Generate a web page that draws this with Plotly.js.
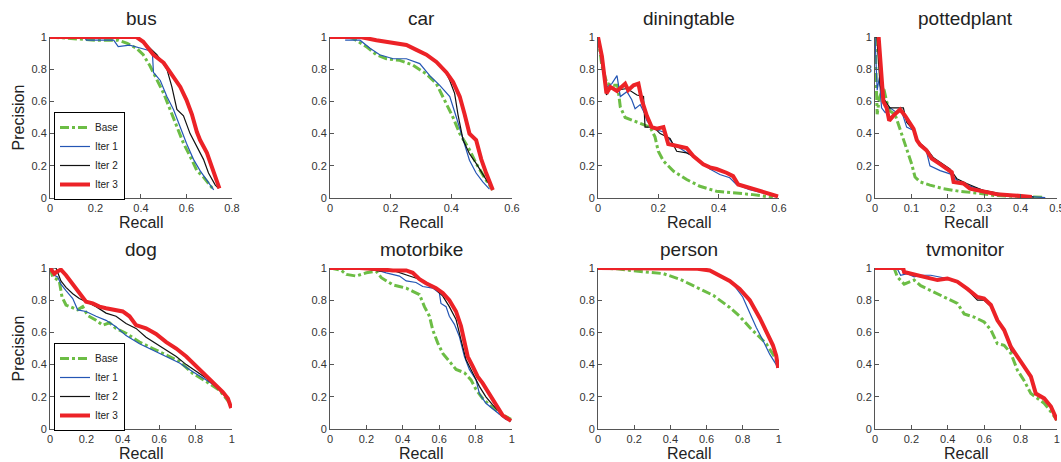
<!DOCTYPE html>
<html>
<head>
<meta charset="utf-8">
<script src="https://cdn.plot.ly/plotly-3.0.1.min.js"></script>
<style>html,body{margin:0;padding:0;background:#fff;}#chart{width:1061px;height:462px;}</style>
</head>
<body>
<div id="chart"></div>
<script>
// ---------- categories ----------
const categories = ["bus", "car", "diningtable", "pottedplant", "dog", "motorbike", "person", "tvmonitor"];
const seriesNames = ["Base", "Iter 1", "Iter 2", "Iter 3"];
const xMax = [0.8, 0.6, 0.6, 0.5, 1, 1, 1, 1];
const xTickStep = [0.2, 0.2, 0.2, 0.1, 0.2, 0.2, 0.2, 0.2];

// ---------- bus ----------
const bus_base_r = [0,0.2,0.3,0.34,0.38,0.41,0.44,0.47,0.5,0.528,0.558,0.587,0.616,0.646,0.675,0.705,0.72];
const bus_base_p = [1,0.98,0.98,0.96,0.93,0.89,0.82,0.73,0.65,0.55,0.44,0.34,0.26,0.17,0.13,0.08,0.05];
const bus_iter1_r = [0,0.15,0.16,0.28,0.3,0.35,0.4,0.45,0.455,0.485,0.514,0.543,0.573,0.6,0.631,0.66,0.69,0.72];
const bus_iter1_p = [1,1,0.98,0.98,0.94,0.95,0.93,0.91,0.78,0.73,0.63,0.55,0.44,0.34,0.24,0.17,0.11,0.05];
const bus_iter2_r = [0,0.38,0.41,0.44,0.47,0.514,0.536,0.558,0.587,0.616,0.646,0.675,0.697,0.727,0.741];
const bus_iter2_p = [1,1,0.97,0.93,0.89,0.80,0.69,0.55,0.51,0.40,0.32,0.24,0.155,0.08,0.06];
const bus_iter3_r = [0,0.38,0.41,0.455,0.5,0.543,0.573,0.6,0.624,0.646,0.66,0.69,0.712,0.734,0.745];
const bus_iter3_p = [1,1,0.97,0.89,0.84,0.755,0.69,0.61,0.52,0.41,0.36,0.28,0.195,0.11,0.06];

// ---------- car ----------
const car_base_r = [0.06,0.077,0.12,0.153,0.186,0.23,0.274,0.318,0.351,0.384,0.406,0.428,0.46,0.482,0.515,0.537];
const car_base_p = [1,0.99,0.94,0.89,0.865,0.855,0.825,0.77,0.71,0.59,0.50,0.40,0.30,0.215,0.11,0.05];
const car_iter1_r = [0.05,0.099,0.132,0.164,0.208,0.252,0.296,0.329,0.362,0.395,0.417,0.439,0.46,0.482,0.504,0.526];
const car_iter1_p = [0.98,0.98,0.93,0.89,0.865,0.865,0.835,0.76,0.70,0.63,0.50,0.36,0.235,0.155,0.10,0.055];
const car_iter2_r = [0,0.1,0.153,0.208,0.252,0.285,0.318,0.351,0.38,0.395,0.411,0.422,0.439,0.46,0.482,0.51,0.537];
const car_iter2_p = [1,1,0.98,0.96,0.95,0.92,0.89,0.845,0.79,0.73,0.65,0.52,0.36,0.275,0.215,0.13,0.05];
const car_iter3_r = [0,0.1,0.153,0.208,0.252,0.285,0.318,0.351,0.384,0.406,0.428,0.444,0.46,0.482,0.499,0.515,0.537];
const car_iter3_p = [1,1,0.98,0.96,0.95,0.92,0.89,0.845,0.78,0.72,0.63,0.52,0.40,0.36,0.24,0.155,0.05];

// ---------- diningtable ----------
const din_base_r = [0,0.013,0.03,0.052,0.065,0.074,0.09,0.118,0.151,0.173,0.189,0.2,0.217,0.25,0.294,0.338,0.393,0.459,0.514,0.58];
const din_base_p = [1,0.82,0.71,0.70,0.70,0.565,0.50,0.48,0.46,0.44,0.38,0.29,0.23,0.167,0.115,0.073,0.042,0.031,0.021,0.004];
const din_iter1_r = [0,0.013,0.03,0.046,0.063,0.074,0.096,0.112,0.123,0.14,0.156,0.162,0.184,0.217,0.25,0.294,0.338,0.371,0.404,0.437,0.459,0.503,0.547,0.597];
const din_iter1_p = [1,0.82,0.69,0.71,0.76,0.63,0.66,0.61,0.555,0.58,0.52,0.48,0.43,0.41,0.335,0.28,0.23,0.18,0.146,0.126,0.084,0.052,0.031,0.01];
const din_iter2_r = [0,0.013,0.028,0.041,0.063,0.096,0.129,0.151,0.156,0.184,0.206,0.239,0.261,0.294,0.327,0.349,0.371,0.393,0.426,0.448,0.465,0.503,0.547,0.597];
const din_iter2_p = [1,0.88,0.64,0.68,0.67,0.68,0.64,0.63,0.44,0.44,0.40,0.37,0.29,0.28,0.25,0.21,0.19,0.18,0.157,0.136,0.084,0.063,0.042,0.01];
const din_iter3_r = [0,0.013,0.028,0.041,0.063,0.09,0.1,0.118,0.134,0.145,0.162,0.178,0.195,0.217,0.233,0.261,0.294,0.316,0.349,0.371,0.393,0.426,0.448,0.465,0.503,0.547,0.597];
const din_iter3_p = [1,0.88,0.65,0.69,0.665,0.71,0.67,0.70,0.71,0.61,0.51,0.44,0.43,0.44,0.335,0.325,0.31,0.26,0.21,0.19,0.18,0.157,0.136,0.084,0.063,0.042,0.01];

// ---------- pottedplant ----------
const pot_base_r = [0,0.003,0.006,0.012,0.023,0.032,0.041,0.055,0.064,0.073,0.087,0.101,0.11,0.124,0.151,0.188,0.234,0.28,0.326,0.39,0.463];
const pot_base_p = [1,0.71,0.52,0.62,0.69,0.60,0.54,0.52,0.46,0.40,0.315,0.21,0.13,0.10,0.08,0.058,0.041,0.031,0.016,0.01,0.004];
const pot_iter1_r = [0,0.006,0.012,0.018,0.028,0.041,0.06,0.073,0.087,0.106,0.119,0.142,0.151,0.179,0.206,0.225,0.252,0.298,0.344,0.417,0.468];
const pot_iter1_p = [1,0.67,0.75,0.56,0.53,0.56,0.53,0.54,0.44,0.42,0.34,0.285,0.20,0.17,0.15,0.11,0.08,0.047,0.023,0.01,0.002];
const pot_iter2_r = [0,0.005,0.014,0.023,0.041,0.069,0.078,0.087,0.106,0.119,0.142,0.161,0.188,0.206,0.225,0.252,0.298,0.344,0.39,0.436];
const pot_iter2_p = [1,1,0.70,0.62,0.56,0.56,0.56,0.47,0.42,0.35,0.305,0.25,0.21,0.18,0.12,0.09,0.047,0.027,0.016,0.006];
const pot_iter3_r = [0.01,0.018,0.023,0.032,0.039,0.05,0.069,0.083,0.096,0.106,0.115,0.124,0.142,0.156,0.179,0.197,0.211,0.216,0.243,0.261,0.298,0.335,0.381,0.431];
const pot_iter3_p = [1,0.75,0.60,0.56,0.48,0.51,0.55,0.51,0.46,0.43,0.36,0.33,0.295,0.245,0.21,0.18,0.16,0.10,0.09,0.058,0.043,0.023,0.016,0.006];

// ---------- dog ----------
const dog_base_r = [0,0.015,0.051,0.066,0.088,0.116,0.152,0.18,0.207,0.253,0.29,0.327,0.363,0.418,0.492,0.565,0.639,0.712,0.785,0.859,0.932,0.996];
const dog_base_p = [1,0.945,0.92,0.82,0.77,0.755,0.74,0.76,0.705,0.675,0.645,0.66,0.625,0.595,0.54,0.50,0.46,0.42,0.345,0.295,0.24,0.15];
const dog_iter1_r = [0,0.024,0.042,0.06,0.088,0.125,0.152,0.198,0.253,0.308,0.363,0.418,0.492,0.565,0.639,0.712,0.785,0.859,0.932,0.996];
const dog_iter1_p = [1,0.955,0.945,0.90,0.86,0.81,0.74,0.73,0.70,0.675,0.635,0.58,0.53,0.49,0.45,0.41,0.355,0.305,0.25,0.15];
const dog_iter2_r = [0,0.033,0.06,0.088,0.125,0.161,0.198,0.253,0.308,0.363,0.418,0.473,0.528,0.583,0.639,0.694,0.749,0.804,0.859,0.914,0.969,0.996];
const dog_iter2_p = [1,1,0.92,0.88,0.84,0.81,0.79,0.76,0.72,0.70,0.655,0.625,0.57,0.53,0.49,0.45,0.40,0.355,0.315,0.26,0.20,0.14];
const dog_iter3_r = [0,0.024,0.042,0.06,0.088,0.125,0.161,0.198,0.235,0.272,0.308,0.345,0.4,0.437,0.473,0.528,0.583,0.639,0.694,0.749,0.804,0.859,0.914,0.95,0.978,0.996];
const dog_iter3_p = [1,0.965,0.98,0.99,0.955,0.90,0.84,0.79,0.78,0.76,0.75,0.74,0.73,0.70,0.645,0.625,0.59,0.54,0.50,0.45,0.39,0.335,0.27,0.23,0.19,0.13];

// ---------- motorbike ----------
const mot_base_r = [0,0.062,0.09,0.144,0.2,0.254,0.282,0.309,0.346,0.382,0.419,0.455,0.492,0.519,0.547,0.565,0.592,0.62,0.656,0.693,0.739,0.775,0.803,0.839,0.876,0.931,0.995];
const mot_base_p = [1,0.985,0.96,0.95,0.97,0.98,0.94,0.92,0.895,0.885,0.875,0.855,0.835,0.76,0.70,0.615,0.535,0.47,0.42,0.37,0.35,0.305,0.245,0.19,0.15,0.10,0.06];
const mot_iter1_r = [0,0.236,0.309,0.382,0.419,0.473,0.51,0.565,0.601,0.61,0.638,0.656,0.684,0.711,0.739,0.766,0.803,0.821,0.857,0.912,0.967,0.995];
const mot_iter1_p = [1,0.995,0.97,0.95,0.92,0.91,0.885,0.875,0.845,0.78,0.76,0.70,0.65,0.575,0.45,0.37,0.305,0.22,0.16,0.11,0.06,0.05];
const mot_iter2_r = [0,0.2,0.272,0.346,0.437,0.492,0.565,0.62,0.656,0.693,0.72,0.748,0.784,0.821,0.857,0.894,0.949,0.995];
const mot_iter2_p = [1,0.995,0.98,0.985,0.95,0.93,0.885,0.825,0.76,0.68,0.555,0.43,0.35,0.265,0.20,0.15,0.085,0.05];
const mot_iter3_r = [0,0.163,0.29,0.346,0.419,0.455,0.492,0.528,0.583,0.62,0.656,0.693,0.72,0.739,0.757,0.784,0.812,0.839,0.876,0.912,0.949,0.995];
const mot_iter3_p = [1,1,0.99,0.985,0.985,0.97,0.93,0.905,0.875,0.845,0.80,0.73,0.64,0.535,0.45,0.39,0.325,0.285,0.22,0.16,0.085,0.05];

// ---------- person ----------
const per_base_r = [0,0.105,0.178,0.27,0.361,0.453,0.545,0.637,0.728,0.783,0.839,0.894,0.93,0.967,0.994];
const per_base_p = [1,0.995,0.985,0.975,0.965,0.93,0.88,0.83,0.755,0.70,0.63,0.57,0.53,0.465,0.41];
const per_iter1_r = [0,0.5,0.55,0.618,0.673,0.728,0.747,0.8,0.839,0.875,0.912,0.949,0.985,0.99];
const per_iter1_p = [1,1,0.995,0.985,0.95,0.92,0.90,0.82,0.72,0.63,0.55,0.465,0.40,0.38];
const per_iter2_r = [0,0.5,0.55,0.618,0.673,0.728,0.783,0.839,0.894,0.93,0.967,0.985,0.996];
const per_iter2_p = [1,1,0.995,0.985,0.95,0.92,0.865,0.79,0.68,0.60,0.51,0.45,0.38];
const per_iter3_r = [0,0.5,0.55,0.618,0.673,0.728,0.783,0.839,0.894,0.93,0.967,0.985,0.996];
const per_iter3_p = [1,1,0.995,0.985,0.95,0.92,0.87,0.80,0.69,0.61,0.52,0.455,0.38];

// ---------- tvmonitor ----------
const tv_base_r = [0,0.105,0.123,0.16,0.215,0.251,0.306,0.343,0.398,0.453,0.49,0.545,0.6,0.637,0.673,0.71,0.747,0.783,0.82,0.857,0.894,0.93,0.967,1.0];
const tv_base_p = [1,1,0.945,0.90,0.925,0.89,0.86,0.84,0.81,0.78,0.715,0.695,0.665,0.615,0.53,0.52,0.47,0.365,0.30,0.22,0.19,0.16,0.107,0.055];
const tv_iter1_r = [0,0.12,0.141,0.178,0.215,0.251,0.306,0.361,0.398,0.453,0.508,0.563,0.6,0.637,0.673,0.71,0.747,0.783,0.82,0.857,0.884,0.93,0.967,1.0];
const tv_iter1_p = [1,1,0.955,0.965,0.945,0.955,0.955,0.945,0.935,0.915,0.875,0.815,0.80,0.77,0.68,0.61,0.50,0.45,0.385,0.33,0.22,0.19,0.14,0.06];
const tv_iter2_r = [0,0.14,0.16,0.196,0.233,0.288,0.343,0.398,0.453,0.508,0.563,0.6,0.637,0.673,0.71,0.747,0.783,0.82,0.857,0.884,0.93,0.967,1.0];
const tv_iter2_p = [1,1,0.97,0.96,0.95,0.94,0.925,0.93,0.91,0.865,0.80,0.80,0.76,0.67,0.61,0.49,0.45,0.385,0.32,0.22,0.19,0.14,0.055];
const tv_iter3_r = [0,0.155,0.16,0.196,0.233,0.288,0.343,0.398,0.453,0.508,0.563,0.6,0.637,0.673,0.71,0.747,0.783,0.82,0.857,0.884,0.93,0.967,1.0];
const tv_iter3_p = [1,1,0.975,0.965,0.955,0.945,0.925,0.935,0.915,0.87,0.82,0.81,0.77,0.675,0.615,0.51,0.45,0.385,0.325,0.22,0.19,0.14,0.055];

const curves = [
  [[bus_base_r,bus_base_p],[bus_iter1_r,bus_iter1_p],[bus_iter2_r,bus_iter2_p],[bus_iter3_r,bus_iter3_p]],
  [[car_base_r,car_base_p],[car_iter1_r,car_iter1_p],[car_iter2_r,car_iter2_p],[car_iter3_r,car_iter3_p]],
  [[din_base_r,din_base_p],[din_iter1_r,din_iter1_p],[din_iter2_r,din_iter2_p],[din_iter3_r,din_iter3_p]],
  [[pot_base_r,pot_base_p],[pot_iter1_r,pot_iter1_p],[pot_iter2_r,pot_iter2_p],[pot_iter3_r,pot_iter3_p]],
  [[dog_base_r,dog_base_p],[dog_iter1_r,dog_iter1_p],[dog_iter2_r,dog_iter2_p],[dog_iter3_r,dog_iter3_p]],
  [[mot_base_r,mot_base_p],[mot_iter1_r,mot_iter1_p],[mot_iter2_r,mot_iter2_p],[mot_iter3_r,mot_iter3_p]],
  [[per_base_r,per_base_p],[per_iter1_r,per_iter1_p],[per_iter2_r,per_iter2_p],[per_iter3_r,per_iter3_p]],
  [[tv_base_r,tv_base_p],[tv_iter1_r,tv_iter1_p],[tv_iter2_r,tv_iter2_p],[tv_iter3_r,tv_iter3_p]]
];

// ---------- styles ----------
const lineStyles = [
  {color: "#6cbd45", width: 3, dash: "dashdot"},
  {color: "#2456b4", width: 1.2, dash: "solid"},
  {color: "#111111", width: 1.2, dash: "solid"},
  {color: "#ec2227", width: 4, dash: "solid"}
];
const FONT = "Liberation Sans, Arial, sans-serif";
const W = 1061, H = 462;
const colPx = [[50, 232], [330, 512], [598, 779], [875, 1057]];
const rowPx = [[37, 198], [268, 429]];

const traces = [];
const legendStyle = {
  xanchor: "left", yanchor: "top",
  bgcolor: "#fff", bordercolor: "#000", borderwidth: 1,
  font: {size: 10, family: FONT, color: "#222"}, tracegroupgap: 0, itemwidth: 30
};
const layout = {
  width: W, height: H,
  margin: {l: 0, r: 0, t: 0, b: 0},
  paper_bgcolor: "#ffffff", plot_bgcolor: "#ffffff",
  font: {family: FONT, color: "#333"},
  showlegend: true,
  annotations: [],
  legend: Object.assign({x: 54 / W, y: 1 - 112 / H}, legendStyle),
  legend2: Object.assign({x: 54 / W, y: 1 - 343 / H}, legendStyle)
};

categories.forEach((cat, i) => {
  const row = Math.floor(i / 4), col = i % 4;
  const n = i + 1;
  const sfx = n === 1 ? "" : String(n);
  const xd = [colPx[col][0] / W, colPx[col][1] / W];
  const yd = [1 - rowPx[row][1] / H, 1 - rowPx[row][0] / H];
  const axCommon = {
    showline: true, linecolor: "#555", linewidth: 1, mirror: false,
    ticks: "inside", ticklen: 4, tickcolor: "#555", tickwidth: 1,
    showgrid: false, zeroline: false, fixedrange: true,
    ticklabeloverflow: "allow",
    tickfont: {size: 11, family: FONT, color: "#333"}
  };
  layout["xaxis" + sfx] = Object.assign({}, axCommon, {
    domain: xd, range: [0, xMax[i] * 1.0005], tick0: 0, dtick: xTickStep[i],
    anchor: "y" + sfx
  });
  layout["yaxis" + sfx] = Object.assign({}, axCommon, {
    domain: yd, range: [0, 1], tick0: 0, dtick: 0.2,
    anchor: "x" + sfx
  });
  curves[i].forEach((c, s) => {
    traces.push({
      type: "scatter", mode: "lines",
      x: c[0], y: c[1],
      name: seriesNames[s],
      xaxis: "x" + sfx, yaxis: "y" + sfx,
      line: lineStyles[s],
      showlegend: (i === 0 || i === 4),
      legend: i === 4 ? "legend2" : "legend",
      hoverinfo: "skip"
    });
  });
  // subplot title
  layout.annotations.push({
    text: cat, xref: "paper", yref: "paper",
    x: (xd[0] + xd[1]) / 2, y: yd[1], xanchor: "center", yanchor: "bottom",
    yshift: 6, showarrow: false, font: {size: 19, family: FONT, color: "#222"}
  });
  // x axis label
  layout.annotations.push({
    text: "Recall", xref: "paper", yref: "paper",
    x: (xd[0] + xd[1]) / 2, y: 1 - (rowPx[row][1] + 24) / H, xanchor: "center", yanchor: "middle",
    showarrow: false, font: {size: 16, family: FONT, color: "#222"}
  });
  if (col === 0) {
    layout.annotations.push({
      text: "Precision", xref: "paper", yref: "paper",
      x: 18 / W, y: (yd[0] + yd[1]) / 2, xanchor: "center", yanchor: "middle",
      textangle: -90, showarrow: false, font: {size: 16, family: FONT, color: "#222"}
    });
  }
});

Plotly.newPlot("chart", traces, layout, {staticPlot: true, displayModeBar: false});
</script>
</body>
</html>
